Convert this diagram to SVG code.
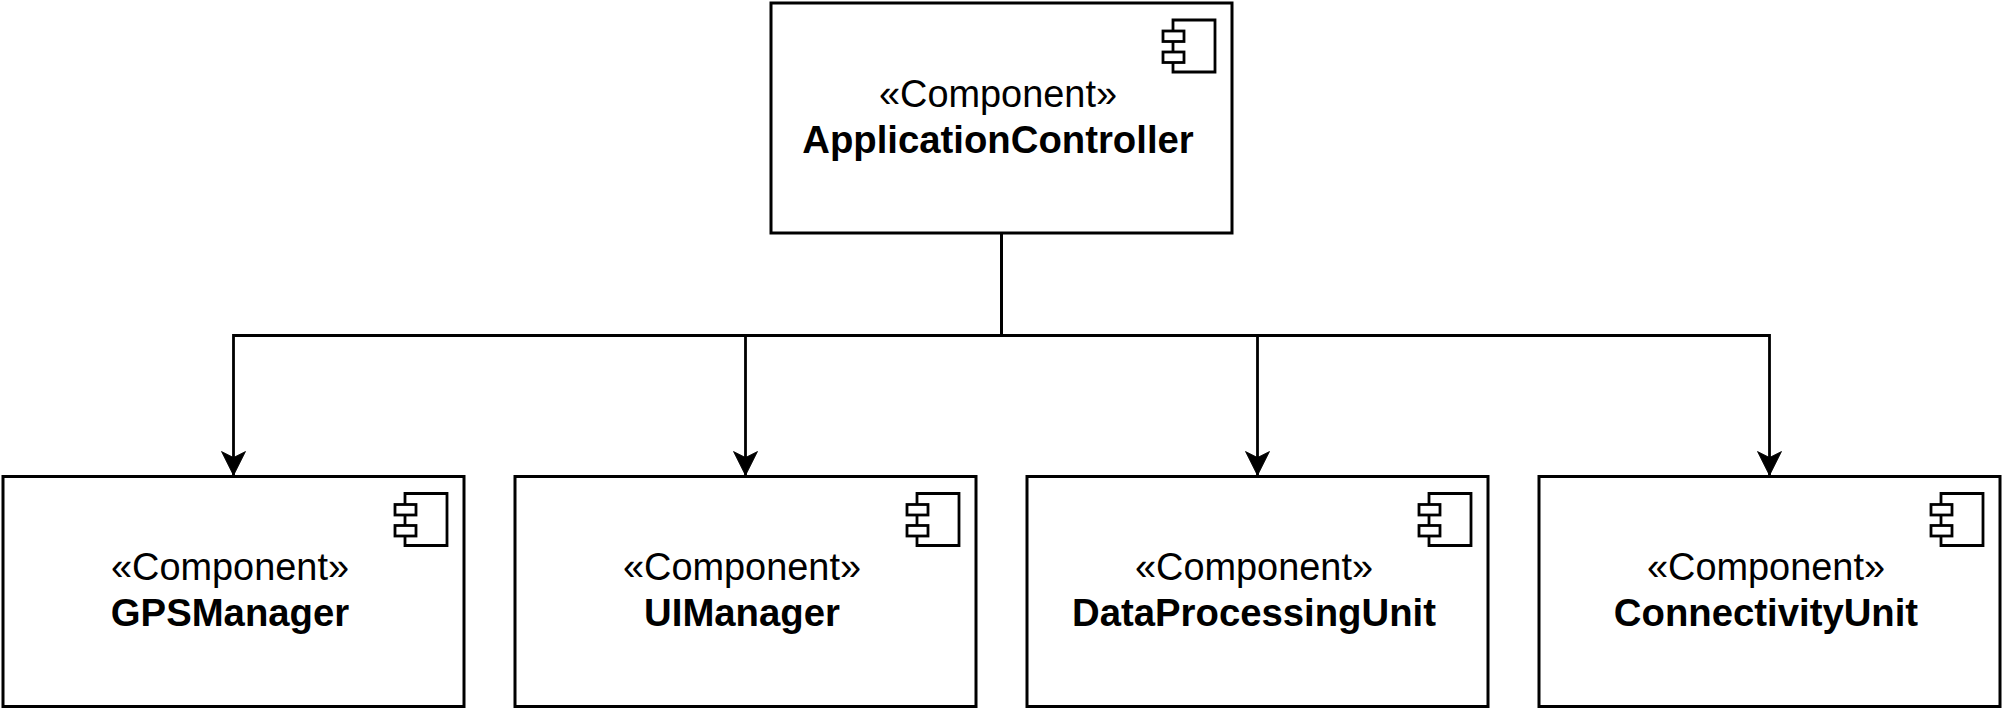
<svg xmlns="http://www.w3.org/2000/svg" width="2004" height="711" viewBox="0 0 2004 711">
<style>
.box{fill:#fff;stroke:#000;stroke-width:3}
.ic{fill:#fff;stroke:#000;stroke-width:2.8}
.wire{fill:none;stroke:#000;stroke-width:2.8}
text{font-family:"Liberation Sans",Arial,sans-serif;font-size:37.900px;fill:#000;text-anchor:middle}
.b{font-weight:bold;font-size:38.300px}
</style>
<defs>
<marker id="arr" markerUnits="userSpaceOnUse" markerWidth="30" markerHeight="30" refX="26" refY="15" orient="auto" viewBox="0 0 30 30">
<path d="M26 15L2 3L8 15L2 27Z" fill="#000" stroke="#000" stroke-width="0.800"/>
</marker>
<g id="icon">
<path class="ic" d="M-59 17H-17V69H-59Z"/>
<rect class="ic" x="-69" y="28" width="21" height="10.500"/>
<rect class="ic" x="-69" y="49" width="21" height="10.500"/>
</g>
</defs>
<rect width="2004" height="711" fill="#fff"/>
<g id="connectors">
<path class="wire" d="M1001.500 233V335.500H233.500V475.500" marker-end="url(#arr)"/>
<path class="wire" d="M1001.500 233V335.500H745.500V475.500" marker-end="url(#arr)"/>
<path class="wire" d="M1001.500 233V335.500H1257.500V475.500" marker-end="url(#arr)"/>
<path class="wire" d="M1001.500 233V335.500H1769.500V475.500" marker-end="url(#arr)"/>
</g>
<g id="ApplicationController">
<rect class="box" x="771" y="3" width="461" height="230"/>
<use href="#icon" x="1232" y="3"/>
<text x="998" y="106.500">«Component»</text>
<text class="b" x="998" y="152.500">ApplicationController</text>
</g>
<g id="GPSManager">
<rect class="box" x="3" y="476.500" width="461" height="230"/>
<use href="#icon" x="464" y="476.500"/>
<text x="230" y="579.500">«Component»</text>
<text class="b" x="230" y="625.500">GPSManager</text>
</g>
<g id="UIManager">
<rect class="box" x="515" y="476.500" width="461" height="230"/>
<use href="#icon" x="976" y="476.500"/>
<text x="742" y="579.500">«Component»</text>
<text class="b" x="742" y="625.500">UIManager</text>
</g>
<g id="DataProcessingUnit">
<rect class="box" x="1027" y="476.500" width="461" height="230"/>
<use href="#icon" x="1488" y="476.500"/>
<text x="1254" y="579.500">«Component»</text>
<text class="b" x="1254" y="625.500">DataProcessingUnit</text>
</g>
<g id="ConnectivityUnit">
<rect class="box" x="1539" y="476.500" width="461" height="230"/>
<use href="#icon" x="2000" y="476.500"/>
<text x="1766" y="579.500">«Component»</text>
<text class="b" x="1766" y="625.500">ConnectivityUnit</text>
</g>
</svg>
